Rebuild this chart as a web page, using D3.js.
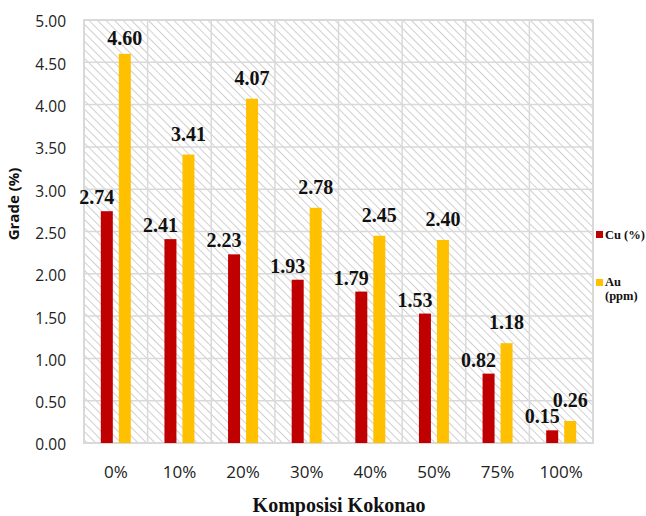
<!DOCTYPE html>
<html>
<head>
<meta charset="utf-8">
<script src="https://cdn.jsdelivr.net/npm/d3@7"></script>
<style>
  body { margin: 0; background: #fff; }
  .tick text { font-family: "Open Sans", sans-serif; fill: #222; }
  .valLabel { font-family: "Liberation Serif", serif; font-weight: bold; font-size: 20px; fill: #111; }
  .legendText { font-family: "Liberation Serif", serif; font-weight: bold; font-size: 12.5px; fill: #111; }
</style>
</head>
<body>
<div id="chart"></div>
<script>
const categories = ['0%', '10%', '20%', '30%', '40%', '50%', '75%', '100%'];
const cuValues = [2.74, 2.41, 2.23, 1.93, 1.79, 1.53, 0.82, 0.15];
const auValues = [4.60, 3.41, 4.07, 2.78, 2.45, 2.40, 1.18, 0.26];
const yTicks = [0, 0.5, 1, 1.5, 2, 2.5, 3, 3.5, 4, 4.5, 5];

const width = 646;
const height = 516;
const plot = {left: 84, right: 593, top: 20, bottom: 443};
const barWidth = 12;
const barGap = 6;
const cuColor = '#c00000';
const auColor = '#ffc000';
const gridColor = '#d9d9d9';

const svg = d3.select('#chart').append('svg')
  .attr('width', width)
  .attr('height', height);

// hatch pattern for the plot background ("\" direction)
const defs = svg.append('defs');
const pattern = defs.append('pattern')
  .attr('id', 'hatch')
  .attr('patternUnits', 'userSpaceOnUse')
  .attr('width', 6)
  .attr('height', 6)
  .attr('patternTransform', 'rotate(-45)');
pattern.append('rect')
  .attr('width', 6)
  .attr('height', 6)
  .attr('fill', '#fff');
pattern.append('line')
  .attr('x1', 0).attr('y1', 0)
  .attr('x2', 0).attr('y2', 6)
  .attr('stroke', '#d0d0d0')
  .attr('stroke-width', 2);

const x = d3.scaleBand()
  .domain(categories)
  .range([plot.left, plot.right]);

const y = d3.scaleLinear()
  .domain([0, 5])
  .range([plot.bottom, plot.top]);

svg.append('rect')
  .attr('x', plot.left)
  .attr('y', plot.top)
  .attr('width', plot.right - plot.left)
  .attr('height', plot.bottom - plot.top)
  .attr('fill', 'url(#hatch)');

// gridlines
svg.append('g')
  .selectAll('line')
  .data(yTicks)
  .enter()
  .append('line')
  .attr('x1', plot.left)
  .attr('x2', plot.right)
  .attr('y1', d => y(d))
  .attr('y2', d => y(d))
  .attr('stroke', gridColor)
  .attr('stroke-width', 1.5);

svg.append('g')
  .selectAll('line')
  .data(categories.slice(1))
  .enter()
  .append('line')
  .attr('x1', d => x(d))
  .attr('x2', d => x(d))
  .attr('y1', plot.top)
  .attr('y2', plot.bottom)
  .attr('stroke', gridColor)
  .attr('stroke-width', 1.5);

svg.append('rect')
  .attr('x', plot.left)
  .attr('y', plot.top)
  .attr('width', plot.right - plot.left)
  .attr('height', plot.bottom - plot.top)
  .attr('fill', 'none')
  .attr('stroke', gridColor)
  .attr('stroke-width', 2);

// axes
const yAxis = svg.append('g')
  .attr('transform', `translate(${plot.left},0)`)
  .call(d3.axisLeft(y).tickValues(yTicks).tickFormat(d3.format('.2f')).tickSize(0).tickPadding(18));
yAxis.select('.domain').remove();
yAxis.selectAll('text').style('font-size', '15.5px').attr('dy', '0.45em');

const xAxis = svg.append('g')
  .attr('transform', `translate(0,${plot.bottom})`)
  .call(d3.axisBottom(x).tickSize(0).tickPadding(23));
xAxis.select('.domain').remove();
xAxis.selectAll('text').style('font-size', '17px');

// bars
const groups = categories.map((c, i) => ({cat: c, cu: cuValues[i], au: auValues[i]}));
const center = d => x(d.cat) + x.bandwidth() / 2;

svg.append('g').selectAll('rect')
  .data(groups)
  .enter()
  .append('rect')
  .attr('x', d => center(d) - barGap / 2 - barWidth)
  .attr('y', d => y(d.cu))
  .attr('width', barWidth)
  .attr('height', d => plot.bottom - y(d.cu))
  .attr('fill', cuColor);

svg.append('g').selectAll('rect')
  .data(groups)
  .enter()
  .append('rect')
  .attr('x', d => center(d) + barGap / 2)
  .attr('y', d => y(d.au))
  .attr('width', barWidth)
  .attr('height', d => plot.bottom - y(d.au))
  .attr('fill', auColor);

// value labels
svg.append('g').selectAll('text')
  .data(groups)
  .enter()
  .append('text')
  .attr('class', 'valLabel')
  .attr('text-anchor', 'middle')
  .attr('x', d => center(d) - barGap / 2 - barWidth / 2 - 10)
  .attr('y', d => y(d.cu) - 7)
  .text(d => d.cu.toFixed(2));

svg.append('g').selectAll('text')
  .data(groups)
  .enter()
  .append('text')
  .attr('class', 'valLabel')
  .attr('text-anchor', 'middle')
  .attr('x', d => center(d) + barGap / 2 + barWidth / 2)
  .attr('y', d => Math.max(y(d.au) - 14, 45))
  .text(d => d.au.toFixed(2));

// axis titles
svg.append('text')
  .attr('transform', 'translate(19,204) rotate(-90)')
  .attr('text-anchor', 'middle')
  .style('font-family', '"Open Sans", sans-serif')
  .style('font-weight', '700')
  .style('font-size', '15px')
  .attr('fill', '#111')
  .text('Grade (%)');

svg.append('text')
  .attr('x', 339)
  .attr('y', 512)
  .attr('text-anchor', 'middle')
  .style('font-family', '"Liberation Serif", serif')
  .style('font-weight', 'bold')
  .style('font-size', '20px')
  .attr('fill', '#111')
  .text('Komposisi Kokonao');

// legend
const legend = svg.append('g');
legend.append('rect')
  .attr('x', 596).attr('y', 231)
  .attr('width', 7).attr('height', 7)
  .attr('fill', cuColor);
legend.append('text')
  .attr('class', 'legendText')
  .attr('x', 605).attr('y', 238.5)
  .text('Cu (%)');
legend.append('rect')
  .attr('x', 596).attr('y', 279)
  .attr('width', 7).attr('height', 7)
  .attr('fill', auColor);
legend.append('text')
  .attr('class', 'legendText')
  .attr('x', 605).attr('y', 286)
  .text('Au');
legend.append('text')
  .attr('class', 'legendText')
  .attr('x', 605).attr('y', 300)
  .text('(ppm)');
</script>
</body>
</html>
